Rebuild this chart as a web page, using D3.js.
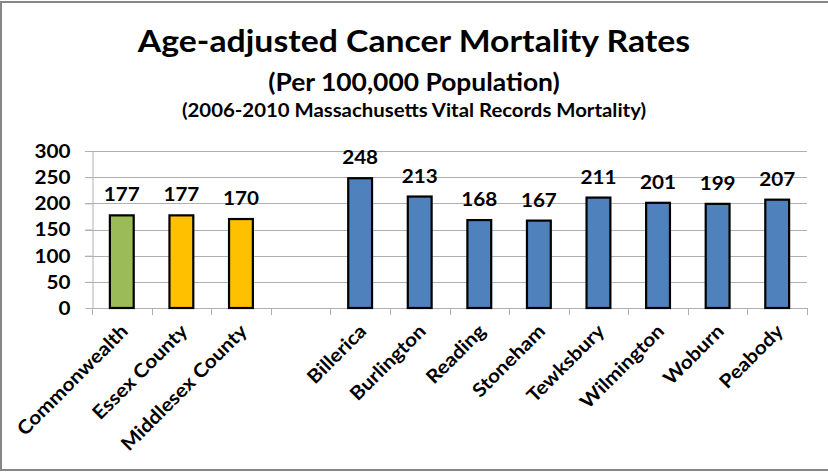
<!DOCTYPE html>
<html>
<head>
<meta charset="utf-8">
<script src="https://cdn.jsdelivr.net/npm/d3@7"></script>
<style>
  body { margin: 0; background: #fff; }
  svg { display: block; }
  text { font-family: Lato, "Open Sans", sans-serif; font-weight: bold; fill: #000; }
</style>
</head>
<body>
<svg id="chart"></svg>
<script>
// 数据
var categories = ['Commonwealth', 'Essex County', 'Middlesex County', '',
    'Billerica', 'Burlington', 'Reading', 'Stoneham', 'Tewksbury', 'Wilmington', 'Woburn', 'Peabody'];
var rates = [177, 177, 170, null, 248, 213, 168, 167, 211, 201, 199, 207];
var groups = ['state', 'county', 'county', '', 'town', 'town', 'town', 'town', 'town', 'town', 'town', 'town'];
var yTicks = [0, 50, 100, 150, 200, 250, 300];
var titles = ['Age-adjusted Cancer Mortality Rates', '(Per 100,000 Population)',
    '(2006-2010 Massachusetts Vital Records Mortality)'];

var width = 828, height = 472;
var SX = 1.1; // 横向拉伸

var svg = d3.select('#chart').attr('width', width).attr('height', height);

// 外框
svg.append('rect')
    .attr('x', 1).attr('y', 2)
    .attr('width', width + 20).attr('height', height - 4)
    .attr('fill', '#fff')
    .attr('stroke', '#878787')
    .attr('stroke-width', 2);

// 比例尺
var x = d3.scaleBand()
    .domain(d3.range(categories.length))
    .range([92, 807])
    .paddingInner(0.6)
    .paddingOuter(0.3);
var slot = d3.scaleBand()
    .domain(d3.range(categories.length))
    .range([92, 807]);
var y = d3.scaleLinear().domain([0, 300]).range([308, 151]);
var color = d3.scaleOrdinal()
    .domain(['state', 'county', 'town'])
    .range(['#9bbb59', '#ffc000', '#4f81bd']);

// 网格线
svg.append('g')
    .selectAll('line')
    .data(yTicks.slice(1))
    .enter()
    .append('line')
    .attr('x1', 85).attr('x2', 807)
    .attr('y1', function(d) { return Math.round(y(d)) + 0.5; })
    .attr('y2', function(d) { return Math.round(y(d)) + 0.5; })
    .attr('stroke', '#b0b0b0');

// y轴
var yAxis = svg.append('g')
    .attr('transform', 'translate(92.5,0)')
    .call(d3.axisLeft(y).tickValues(yTicks).tickSize(7).tickPadding(15));
yAxis.select('.domain').attr('stroke', '#b0b0b0');
yAxis.selectAll('.tick line').attr('stroke', '#b0b0b0');
yAxis.selectAll('.tick text')
    .attr('font-size', 18)
    .attr('font-family', null)
    .attr('dy', '0.36em')
    .attr('transform', 'scale(1.15,1)')
    .attr('x', -22 / 1.15);

// x轴
var xLine = svg.append('g');
xLine.append('line')
    .attr('x1', 92).attr('x2', 807)
    .attr('y1', 308.5).attr('y2', 308.5)
    .attr('stroke', '#b0b0b0');
xLine.selectAll('line.tick')
    .data(d3.range(categories.length + 1))
    .enter()
    .append('line')
    .attr('class', 'tick')
    .attr('x1', function(i) { return Math.round(92 + i * slot.bandwidth()) + 0.5; })
    .attr('x2', function(i) { return Math.round(92 + i * slot.bandwidth()) + 0.5; })
    .attr('y1', 308).attr('y2', 315)
    .attr('stroke', '#b0b0b0');

// 柱子
var valid = d3.range(categories.length).filter(function(i) { return rates[i] != null; });
svg.append('g')
    .selectAll('rect')
    .data(valid)
    .enter()
    .append('rect')
    .attr('x', function(i) { return x(i); })
    .attr('y', function(i) { return y(rates[i]); })
    .attr('width', x.bandwidth())
    .attr('height', function(i) { return y(0) - y(rates[i]); })
    .attr('fill', function(i) { return color(groups[i]); })
    .attr('stroke', '#000')
    .attr('stroke-width', 2.2);

// 数值标签
svg.append('g')
    .selectAll('text')
    .data(valid)
    .enter()
    .append('text')
    .attr('text-anchor', 'middle')
    .attr('font-size', 18)
    .attr('transform', function(i) {
        return 'translate(' + (x(i) + x.bandwidth() / 2) + ',' + (y(rates[i]) - 14) + ') scale(1.15,1)';
    })
    .text(function(i) { return rates[i]; });

// 类别标签
svg.append('g')
    .selectAll('text')
    .data(d3.range(categories.length))
    .enter()
    .append('text')
    .attr('text-anchor', 'end')
    .attr('font-size', 19)
    .attr('transform', function(i) {
        return 'translate(' + (slot(i) + slot.bandwidth() / 2 - 2) + ',323) rotate(-45) scale(' + SX + ',1)';
    })
    .attr('dy', '0.7em')
    .text(function(i) { return categories[i]; });

// 标题
var titleSizes = [31, 24, 18.5];
var titleSX = [1.09, 1.1, 1.1];
var titleY = [52, 91, 117];
svg.append('g')
    .selectAll('text')
    .data(titles)
    .enter()
    .append('text')
    .attr('text-anchor', 'middle')
    .attr('font-size', function(d, i) { return titleSizes[i]; })
    .attr('transform', function(d, i) { return 'translate(414,' + titleY[i] + ') scale(' + titleSX[i] + ',1)'; })
    .text(function(d) { return d; });
</script>
</body>
</html>
